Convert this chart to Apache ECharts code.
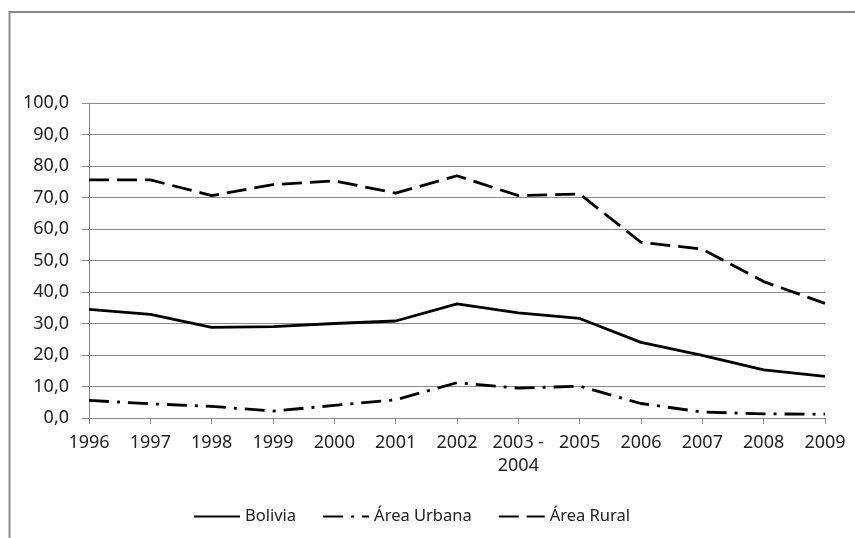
<!DOCTYPE html>
<html>
<head>
<meta charset="utf-8">
<script src="https://cdn.jsdelivr.net/npm/echarts@6/dist/echarts.min.js"></script>
<style>
html,body{margin:0;padding:0;background:#fff;}
#chart{width:855px;height:538px;}
</style>
</head>
<body>
<div id="chart"></div>
<script>
const categories = ['1996','1997','1998','1999','2000','2001','2002','2003 -\n2004','2005','2006','2007','2008','2009'];
const bolivia = [34.5, 32.9, 28.8, 29.0, 30.0, 30.8, 36.2, 33.4, 31.6, 24.0, 19.9, 15.3, 13.2];
const urbana  = [5.6, 4.5, 3.7, 2.2, 4.0, 5.8, 11.2, 9.5, 10.1, 4.6, 1.9, 1.3, 1.2];
const rural   = [75.6, 75.6, 70.6, 74.1, 75.3, 71.4, 76.9, 70.6, 71.1, 55.8, 53.6, 43.3, 36.4];
const seriesNames = ['Bolivia', 'Área Urbana', 'Área Rural'];
const yTicks = {min: 0, max: 100, interval: 10};

const font = 'Noto Sans';
const chart = echarts.init(document.getElementById('chart'));
const mkLine = (name, data, type) => ({
  name, type: 'line', data, symbol: 'none', smooth: false,
  lineStyle: {color: '#000', width: 2.8, type: type, cap: 'butt', join: 'round'},
  itemStyle: {color: '#000'}
});
chart.setOption({
  animation: false,
  backgroundColor: '#fff',
  graphic: [{
    type: 'rect', silent: true,
    shape: {x: 9.5, y: 12, width: 900, height: 600},
    style: {fill: 'none', stroke: '#8a8a8a', lineWidth: 2}
  }],
  grid: {left: 89, right: 30, top: 103, bottom: 120, containLabel: false},
  xAxis: {
    type: 'category', data: categories, boundaryGap: false,
    axisLine: {lineStyle: {color: '#8a8a8a', width: 1}},
    axisTick: {show: true, alignWithLabel: true, length: 6, lineStyle: {color: '#8a8a8a'}},
    axisLabel: {color: '#222', fontFamily: font, fontSize: 18, margin: 13, interval: 0, lineHeight: 23}
  },
  yAxis: {
    type: 'value', min: yTicks.min, max: yTicks.max, interval: yTicks.interval,
    axisLine: {show: true, lineStyle: {color: '#8a8a8a', width: 1}},
    axisTick: {show: true, length: 7, lineStyle: {color: '#8a8a8a'}},
    splitLine: {lineStyle: {color: '#8a8a8a', width: 1}},
    axisLabel: {color: '#222', fontFamily: font, fontSize: 18, margin: 20,
      formatter: v => v.toFixed(1).replace('.', ',')}
  },
  legend: {
    bottom: 8, left: 188, itemWidth: 46, itemHeight: 14, itemGap: 26,
    itemStyle: {opacity: 0},
    textStyle: {color: '#222', fontFamily: font, fontSize: 16.5},
    data: seriesNames
  },
  series: [
    mkLine(seriesNames[0], bolivia, 'solid'),
    mkLine(seriesNames[1], urbana, [20, 8, 3, 8]),
    mkLine(seriesNames[2], rural, [20, 8])
  ]
});
</script>
</body>
</html>
